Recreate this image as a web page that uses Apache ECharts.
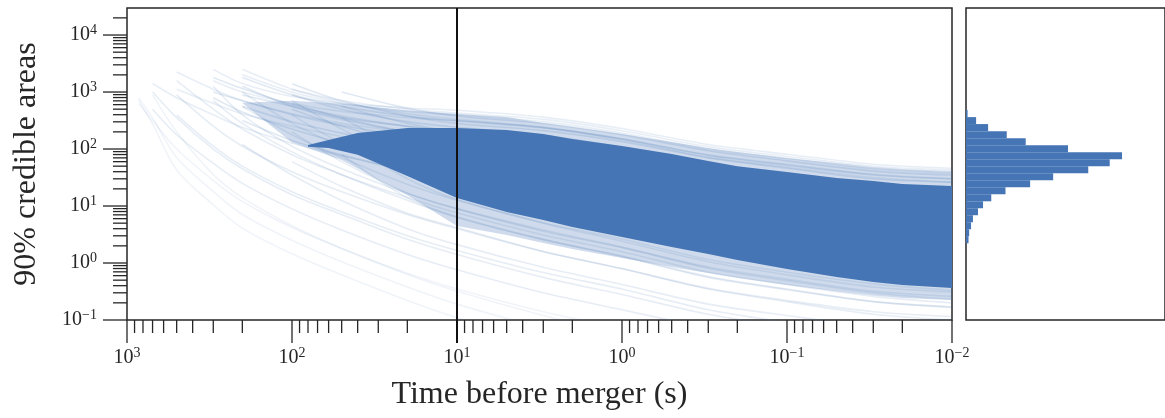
<!DOCTYPE html>
<html>
<head>
<meta charset="utf-8">
<title>90% credible areas vs time before merger</title>
<script src="https://cdn.jsdelivr.net/npm/echarts@6/dist/echarts.min.js"></script>
<style>
  html, body { margin: 0; padding: 0; background: #fff; }
  #chart { width: 1165px; height: 418px; }
</style>
</head>
<body>
<div id="chart"></div>
<script>
// time grid (s) shared by every track, null = track not started yet
var times = [850, 700, 500, 300, 200, 100, 50, 20, 10, 3, 1, 0.3, 0.1, 0.03, 0.01];

// faint tracks of the early fan (start near 1000 s)
var earlyTracks = [
  [720, 275, 43, 10.5, 4.1, 1.45, 0.62, 0.22, 0.11, 0.04, null, null, null, null, null],
  [790, 355, 71, 18, 7.1, 2.5, 1.05, 0.38, 0.19, 0.071, null, null, null, null, null],
  [null, 890, 200, 35.5, 14, 4.5, 1.8, 0.63, 0.32, 0.12, 0.056, null, null, null, null],
  [630, 316, 100, 28, 12, 4.2, 1.8, 0.66, 0.35, 0.14, 0.071, null, null, null, null]
];

// tracks above the dense band
var upperTracks = [
  [null, null, null, 2500, 1410, 832, 631, 525, 479, 363, 229, 120, 81, 54, 46],
  [null, null, null, null, 2000, 1000, 631, 457, 398, 302, 191, 100, 68, 45, 38],
  [null, null, 2240, 1120, 708, 417, 282, 200, 166, 120, 76, 38, 25, 16.6, 14.1],
  [null, null, null, 1580, 1000, 631, 457, 355, 316, 240, 151, 79, 54, 36, 30],
  [null, null, null, null, null, 1120, 708, 500, 427, 331, 209, 110, 74, 50, 43],
  [null, null, null, null, 2500, 1120, 661, 417, 331, 240, 145, 72, 48, 31.6, 26.3],
  [null, null, 1120, 631, 417, 251, 166, 105, 79, 50, 28, 13.2, 8.3, 5.2, 4.4],
  [null, 1410, 794, 398, 240, 126, 76, 42, 30, 17.8, 9.5, 4.2, 2.5, 1.5, 1.2]
];

// tracks below the dense band
var lowerTracks = [
  [null, null, 890, 251, 112, 40, 17.8, 7.1, 4.0, 1.58, 0.79, 0.35, 0.21, 0.126, 0.1],
  [null, null, null, 1260, 398, 112, 45, 16.6, 8.9, 3.6, 1.86, 0.81, 0.49, 0.30, 0.23],
  [null, 1000, 355, 100, 45, 15.8, 7.1, 2.6, 1.41, 0.56, 0.28, 0.126, 0.076, null, null],
  [null, null, 1580, 500, 224, 79, 35.5, 14.1, 7.6, 3.1, 1.58, 0.69, 0.42, 0.26, 0.2],
  [null, null, null, null, 1000, 282, 112, 42, 22.4, 9.1, 4.7, 2.04, 1.23, 0.76, 0.59],
  [null, null, null, 708, 282, 89, 35.5, 12.6, 6.3, 2.57, 1.32, 0.58, 0.35, 0.21, 0.166],
  [null, null, null, null, null, 708, 224, 63, 31.6, 12.9, 6.6, 2.88, 1.74, 1.07, 0.83],
  [null, null, null, null, 562, 178, 71, 24, 12.6, 5.1, 2.63, 1.15, 0.69, 0.43, 0.33],
  [null, 500, 178, 56, 25, 8.9, 3.8, 1.41, 0.76, 0.30, 0.151, 0.071, null, null, null],
  [null, null, 398, 112, 50, 17.8, 7.9, 3.0, 1.66, 0.68, 0.35, 0.151, 0.091, null, null],
  [null, null, null, null, null, 398, 126, 40, 20, 8.1, 4.2, 1.82, 1.10, 0.68, 0.52],
  [null, null, null, null, null, null, 355, 89, 42, 17, 8.7, 3.8, 2.29, 1.41, 1.10],
  [null, null, null, null, null, 60, 22, 7.5, 4.2, 1.6, 0.8, 0.36, 0.22, 0.14, 0.115],
  [null, null, null, null, null, null, 80, 14, 6.5, 2.6, 1.3, 0.56, 0.34, 0.21, 0.17],
  [null, null, null, null, 120, 35, 12.5, 4.0, 2.1, 0.84, 0.42, 0.19, 0.12, 0.076, 0.062],
  [null, null, null, null, null, 200, 60, 17, 9, 3.8, 1.9, 0.85, 0.52, 0.32, 0.26],
  [null, null, null, null, null, null, 150, 30, 13, 5, 2.4, 1.05, 0.62, 0.38, 0.31]
];

// tracks starting at the upper left edge of the band
var bandTracks = [
  [null, null, null, null, 890, 562, 355, 251, 209, 158, 100, 52, 35.5, 23.4, 20],
  [null, null, null, null, null, 631, 355, 200, 151, 100, 59, 29.5, 19.1, 12.3, 10],
  [null, null, null, 794, 447, 224, 126, 71, 50, 28, 15.1, 6.9, 4.3, 2.63, 2.14],
  [null, null, null, null, null, 890, 500, 302, 240, 174, 107, 55, 36, 24, 20.4],
  [null, null, null, null, null, null, 562, 282, 200, 135, 79, 40, 25.7, 16.6, 13.8],
  [null, null, null, null, 316, 141, 79, 42, 30, 16.6, 8.7, 3.9, 2.34, 1.45, 1.15],
  [null, null, null, null, 1260, 560, 330, 200, 160, 120, 75, 38, 25, 16, 13.5],
  [null, null, null, 1000, 700, 400, 260, 170, 135, 95, 58, 29, 19, 12, 10],
  [null, null, null, null, null, 1400, 700, 380, 280, 210, 135, 70, 46, 30, 26],
  [null, null, null, null, null, null, 1000, 520, 380, 280, 178, 93, 62, 41, 35],
  [null, null, null, null, 560, 300, 190, 115, 85, 56, 33, 15.5, 9.8, 6.2, 5],
  [null, null, null, 1800, 1150, 600, 380, 250, 200, 150, 95, 48, 32, 21, 18],
  [null, null, null, null, null, 500, 250, 125, 85, 50, 28, 12.5, 7.5, 4.5, 3.6],
  [null, null, null, null, 1800, 900, 560, 380, 310, 235, 150, 78, 52, 35, 30]
];

// envelope of the light part of the bundle
var haloTimes = [200, 100, 50, 20, 10, 5, 3, 2, 1, 0.5, 0.3, 0.2, 0.1, 0.05, 0.03, 0.02, 0.01];
var haloUpper = [650, 700, 620, 480, 411, 364, 286, 243, 183, 133, 104, 88.5, 69.5, 56.8, 48.3, 44.6, 41.1];
var haloLower = [640, 130, 64, 15.5, 4.46, 3.1, 2.24, 1.76, 1.22, 0.85, 0.67, 0.55, 0.41, 0.32, 0.27, 0.243, 0.224];

// envelope of the saturated core
var coreTimes = [80, 60, 40, 20, 10, 5, 3, 2, 1, 0.5, 0.3, 0.2, 0.1, 0.05, 0.03, 0.02, 0.01];
var coreUpper = [118, 144, 191, 233, 233, 215, 183, 150, 113, 82, 61.5, 50, 39.5, 31, 27.5, 24.3, 22.4];
var coreLower = [110, 104, 79, 33.6, 13.8, 7.85, 5.7, 4.3, 2.86, 1.91, 1.44, 1.13, 0.785, 0.568, 0.464, 0.411, 0.364];

// side histogram (areas at 10 s)
var histEdges = [2.22, 2.94, 3.91, 5.19, 6.89, 9.14, 12.1, 16.1, 21.4, 28.4, 37.7, 50.0, 66.4, 88.1, 117, 155, 206, 274, 363, 482];
var histCounts = [16, 20, 32, 44, 76, 108, 160, 250, 406, 552, 774, 910, 988, 646, 378, 258, 140, 64, 10];

var xMajorTicks = [1000, 100, 10, 1, 0.1, 0.01];
var yMajorTicks = [0.1, 1, 10, 100, 1000, 10000];
var minorMantissas = [2, 3, 4, 5, 6, 7, 8, 9];
var markTime = 10;

var X_MIN = 0.01, X_MAX = 1000, Y_MIN = 0.1, Y_MAX = 29800;

var BLUE = '#4575b4';
var INK = '#262626';
var FONT = '"Liberation Serif", "DejaVu Serif", serif';

function minorsOf(majors, lo, hi) {
  var out = [];
  majors.forEach(function (m) {
    minorMantissas.forEach(function (k) {
      var v = m * k;
      if (v > lo && v < hi) out.push(v);
    });
  });
  return out;
}
var xMinorTicks = minorsOf([0.01, 0.1, 1, 10, 100], X_MIN, X_MAX);
var yMinorTicks = minorsOf([0.1, 1, 10, 100, 1000, 10000], Y_MIN, Y_MAX);

function powLabel(v) {
  var e = Math.round(Math.log10(v));
  return '{b|10}{e|' + (e < 0 ? '\u2212' + (-e) : e) + '}';
}
var labelRich = {
  b: { fontFamily: FONT, fontSize: 20, color: INK, lineHeight: 24 },
  e: { fontFamily: FONT, fontSize: 14, color: INK, lineHeight: 13, verticalAlign: 'top' }
};

function trackSeries(vals, opacity) {
  var pts = [];
  for (var i = 0; i < times.length; i++) {
    if (vals[i] != null) pts.push([times[i], vals[i]]);
  }
  return {
    type: 'line', xAxisIndex: 0, yAxisIndex: 0, data: pts,
    smooth: 0.3, symbol: 'none', silent: true, z: 2,
    lineStyle: { color: BLUE, width: 1.6, opacity: opacity }
  };
}

function bandSeries(bt, up, lo, fill, z) {
  return {
    type: 'custom', xAxisIndex: 0, yAxisIndex: 0, silent: true, z: z,
    data: bt.map(function (t, i) { return [t, up[i], lo[i]]; }),
    encode: { x: 0, y: [1, 2] },
    renderItem: function (params, api) {
      if (params.dataIndex !== 0) return null;
      var pts = [];
      for (var i = 0; i < bt.length; i++) pts.push(api.coord([bt[i], up[i]]));
      for (var j = bt.length - 1; j >= 0; j--) pts.push(api.coord([bt[j], lo[j]]));
      return { type: 'polygon', shape: { points: pts }, style: { fill: fill } };
    }
  };
}

// ticks drawn outward from the frame, dx/dy = tick vector in px
function tickSeries(data, dx, dy) {
  return {
    type: 'custom', xAxisIndex: 0, yAxisIndex: 0, silent: true, clip: false, z: 6,
    data: data,
    renderItem: function (params, api) {
      var p = api.coord([api.value(0), api.value(1)]);
      return {
        type: 'line',
        shape: { x1: p[0], y1: p[1], x2: p[0] + dx, y2: p[1] + dy },
        style: { stroke: INK, lineWidth: 1.3 }
      };
    }
  };
}

var series = [];
series.push(bandSeries(haloTimes, haloUpper, haloLower, 'rgba(69,117,180,0.26)', 1));
earlyTracks.forEach(function (t) { series.push(trackSeries(t, 0.08)); });
upperTracks.forEach(function (t) { series.push(trackSeries(t, 0.12)); });
lowerTracks.forEach(function (t) { series.push(trackSeries(t, 0.13)); });
bandTracks.forEach(function (t) { series.push(trackSeries(t, 0.16)); });
series.push(bandSeries(coreTimes, coreUpper, coreLower, BLUE, 3));

series.push(tickSeries(xMajorTicks.map(function (v) { return [v, Y_MIN]; }), 0, 23));
series.push(tickSeries(xMinorTicks.map(function (v) { return [v, Y_MIN]; }), 0, 13));
series.push(tickSeries(yMajorTicks.map(function (v) { return [X_MAX, v]; }), -24, 0));
series.push(tickSeries(yMinorTicks.map(function (v) { return [X_MAX, v]; }), -14, 0));

// vertical marker at 10 s, runs through the frame down to the tick end
series.push({
  type: 'custom', xAxisIndex: 0, yAxisIndex: 0, silent: true, clip: false, z: 7,
  data: [[markTime, Y_MIN]],
  renderItem: function (params, api) {
    var top = api.coord([api.value(0), Y_MAX]);
    var bot = api.coord([api.value(0), api.value(1)]);
    return {
      type: 'line',
      shape: { x1: top[0], y1: top[1], x2: bot[0], y2: bot[1] + 23 },
      style: { stroke: '#111', lineWidth: 2 }
    };
  }
});

series.push({
  type: 'custom', xAxisIndex: 1, yAxisIndex: 1, silent: true, z: 3,
  data: histCounts.map(function (c, i) { return [c, histEdges[i], histEdges[i + 1]]; }),
  encode: { x: 0, y: [1, 2] },
  renderItem: function (params, api) {
    var a = api.coord([0, api.value(2)]);
    var b = api.coord([api.value(0), api.value(1)]);
    return {
      type: 'rect',
      shape: { x: a[0], y: a[1], width: b[0] - a[0], height: b[1] - a[1] },
      style: { fill: BLUE }
    };
  }
});

var chart = echarts.init(document.getElementById('chart'), null, { renderer: 'canvas' });
chart.setOption({
  animation: false,
  backgroundColor: '#fff',
  grid: [
    { left: 127, top: 8, width: 825, height: 312, show: true, borderColor: INK, borderWidth: 1.5, backgroundColor: 'transparent' },
    { left: 966, top: 8, width: 210, height: 312, show: true, borderColor: INK, borderWidth: 1.5, backgroundColor: 'transparent' }
  ],
  xAxis: [
    {
      gridIndex: 0, type: 'log', logBase: 10, min: X_MIN, max: X_MAX, inverse: true,
      axisLine: { show: false }, axisTick: { show: false }, splitLine: { show: false },
      axisLabel: { margin: 26, formatter: powLabel, rich: labelRich },
      name: 'Time before merger (s)', nameLocation: 'middle', nameGap: 59,
      nameTextStyle: { fontFamily: FONT, fontSize: 32, color: INK }
    },
    {
      gridIndex: 1, type: 'value', min: 0, max: 1260, show: false
    }
  ],
  yAxis: [
    {
      gridIndex: 0, type: 'log', logBase: 10, min: Y_MIN, max: Y_MAX,
      axisLine: { show: false }, axisTick: { show: false }, splitLine: { show: false },
      axisLabel: { margin: 30, formatter: powLabel, rich: labelRich, showMaxLabel: false },
      name: '90% credible areas', nameLocation: 'middle', nameGap: 84,
      nameTextStyle: { fontFamily: FONT, fontSize: 32, color: INK }
    },
    {
      gridIndex: 1, type: 'log', logBase: 10, min: Y_MIN, max: Y_MAX, show: false
    }
  ],
  series: series
});
</script>
</body>
</html>
